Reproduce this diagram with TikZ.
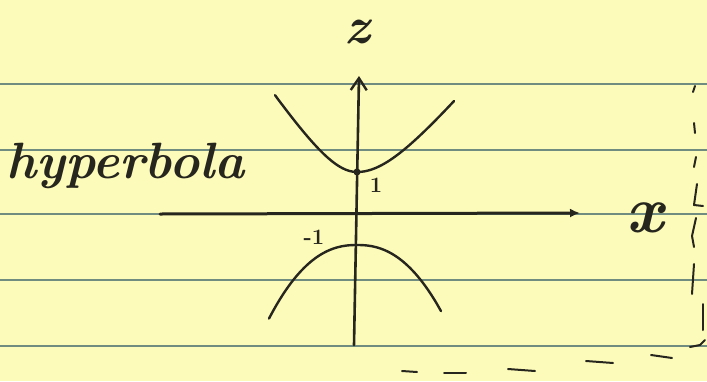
\documentclass[tikz,border=0pt]{standalone}
\usepackage{fontspec}
\usetikzlibrary{arrows.meta}
\definecolor{paper}{RGB}{253,251,186}
\definecolor{rule}{RGB}{112,140,128}
\definecolor{ink}{RGB}{38,38,30}
\begin{document}
\begin{tikzpicture}[x=1pt,y=-1pt,
  ruling/.style={rule,line width=2pt},
  pen/.style={ink,line width=2.4pt,line cap=round,line join=round},
  marg/.style={pen,line width=2pt},
  hand/.style={ink,inner sep=0pt}]
\fill[paper] (0,0) rectangle (707,381);
\useasboundingbox (0,0) rectangle (707,381);
% ruled lines
\foreach \yy in {84,150,214,280,346} \draw[ruling] (0,\yy) -- (707,\yy);
% axes
\coordinate (xl) at (160,214);
\coordinate (xr) at (580,213);
\coordinate (yb) at (354,345);
\coordinate (yt) at (359,76);
\draw[pen,line width=3pt,-{Latex[length=10pt,width=9pt]}] (xl) -- (xr);
\draw[pen,line width=2.6pt,-{Straight Barb[length=12pt,width=16pt,line width=2.4pt]}] (yb) -- (yt);
% upper branch
\draw[pen] plot[domain=-82:0,samples=40] ({357+\x},{172-60*(sqrt(1+(\x/40)^2)-1)})
  -- plot[domain=0:97,samples=40] ({357+\x},{172-60*(sqrt(1+(\x/50)^2)-1)});
% lower branch
\draw[pen] plot[domain=-88:84,samples=80] ({357+\x},{245+12*(abs(\x)/40)^2.3});
\fill[ink] (357,172) circle (3.5pt);
% labels
\node[hand,font=\bfseries\itshape\fontsize{52}{52}\selectfont,anchor=base] (zlab) at (357,43) {z};
\node[hand,font=\bfseries\itshape\fontsize{66}{66}\selectfont,anchor=base] (xlab) at (645,232) {x};
\node[hand,font=\bfseries\fontsize{22}{22}\selectfont] (one) at (376,185) {1};
\node[hand,font=\bfseries\fontsize{22}{22}\selectfont] (mone) at (314,237) {-1};
\node[hand,font=\bfseries\itshape\fontsize{51}{51}\selectfont,anchor=base west] (hyp) at (6,178) {hyperbola};
% right margin marks
\draw[marg] (695,86) -- (693,92);
\draw[marg] (694,123) -- (695,133);
\draw[marg] (696,157) -- (694,167);
\draw[marg] (697,184) -- (694,205) -- (703,206);
\draw[marg] (696,218) -- (692,236) -- (694,247);
\draw[marg] (694,264) -- (692,294);
\draw[marg] (703,304) -- (703,330);
\draw[marg] (690,347) -- (700,345) -- (705,340);
% bottom dashes
\draw[marg] (402,371) -- (417,372);
\draw[marg] (444,373) -- (466,373);
\draw[marg] (508,369) -- (535,371);
\draw[marg] (586,361) -- (613,363);
\draw[marg] (651,355) -- (672,358);
\end{tikzpicture}
\end{document}
